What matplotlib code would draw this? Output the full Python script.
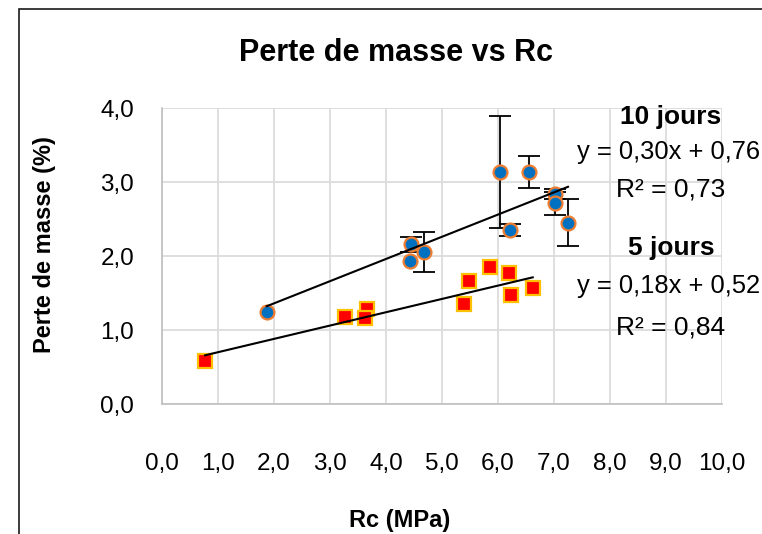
import matplotlib
matplotlib.use("Agg")
import matplotlib.pyplot as plt
import numpy as np
from matplotlib.patches import Rectangle

# ---- data ----
rc_10 = [1.87, 4.44, 4.43, 4.68, 6.04, 6.55, 6.21, 7.02, 7.02, 7.25]
pm_10 = [1.25, 2.16, 1.93, 2.06, 3.135, 3.135, 2.35, 2.84, 2.71, 2.45]
err_10 = [0.0, 0.10, 0.0, 0.27, 0.76, 0.21, 0.08, 0.07, 0.16, 0.32]

rc_5 = [0.77, 3.26, 3.66, 3.63, 5.40, 5.49, 5.85, 6.19, 6.23, 6.62]
pm_5 = [0.585, 1.17, 1.29, 1.16, 1.35, 1.66, 1.855, 1.77, 1.47, 1.57]

fit_10 = (0.30, 0.76)
fit_5 = (0.18, 0.52)
r2_10 = 0.73
r2_5 = 0.84

title = "Perte de masse vs Rc"
xlabel = "Rc (MPa)"
ylabel = "Perte de masse (%)"
xticks = np.arange(0, 11, 1)
yticks = np.arange(0, 5, 1)

W, H = 762, 534
plt.rcParams['font.family'] = ['Liberation Sans', 'DejaVu Sans']
fig = plt.figure(figsize=(W / 100, H / 100), dpi=100)

def fx(px):
    return px / W

def fy(py):
    return 1 - py / H

# outer chart border
fig.patches.append(Rectangle((fx(19), fy(H + 20)), 1.2, fy(9) - fy(H + 20),
                             transform=fig.transFigure, fill=False,
                             edgecolor='#1a1a1a', linewidth=1.2))

ax = fig.add_axes([fx(162), fy(404), fx(722) - fx(162), fy(108) - fy(404)])
ax.set_xlim(0, 10)
ax.set_ylim(0, 4)
ax.set_xticks(xticks)
ax.set_yticks(yticks)
ax.set_xticklabels([f"{v:.1f}".replace('.', ',') for v in xticks], fontsize=17.5)
ax.set_yticklabels([f"{v:.1f}".replace('.', ',') for v in yticks], fontsize=17.5)
ax.tick_params(axis='both', length=0)
ax.tick_params(axis='x', pad=35)
ax.tick_params(axis='y', pad=20)
ax.grid(True, color='#d9d9d9', linewidth=1.2)
ax.set_axisbelow(True)
for s in ['top', 'right']:
    ax.spines[s].set_visible(False)
for s in ['left', 'bottom']:
    ax.spines[s].set_color('#bfbfbf')
    ax.spines[s].set_linewidth(1.2)

# error bars (behind markers), only where an error exists
ex = [x for x, e in zip(rc_10, err_10) if e > 0]
ey = [y for y, e in zip(pm_10, err_10) if e > 0]
ee = [e for e in err_10 if e > 0]
ax.errorbar(ex, ey, yerr=ee, fmt='none', ecolor='black',
            elinewidth=1.3, capsize=8, capthick=1.3, zorder=2)

ax.plot(rc_5, pm_5, linestyle='none', marker='s', markersize=9.5,
        markerfacecolor='#ff0000', markeredgecolor='#ffc000',
        markeredgewidth=1.6, zorder=3, clip_on=False)
ax.plot(rc_10, pm_10, linestyle='none', marker='o', markersize=10,
        markerfacecolor='#0070c0', markeredgecolor='#ed7d31',
        markeredgewidth=1.6, zorder=3, clip_on=False)

# trendlines
for xs, (a, b) in ((rc_10, fit_10), (rc_5, fit_5)):
    xx = np.array([min(xs), max(xs)])
    ax.plot(xx, a * xx + b, color='black', linewidth=1.5, zorder=4)

# texts
fig.text(fx(396), fy(53), title, fontsize=22, fontweight='bold',
         ha='center', va='center')
fig.text(fx(400), fy(521), xlabel, fontsize=17, fontweight='bold',
         ha='center', va='center')
fig.text(fx(45), fy(245), ylabel, fontsize=17, fontweight='bold',
         ha='center', va='center', rotation=90)

def eq(a, b):
    return f"y = {a:.2f}x + {b:.2f}".replace('.', ',')

def r2(v):
    return f"R² = {v:.2f}".replace('.', ',')

fs = 19
fs_eq = 18.4
fig.text(fx(671), fy(117), "10 jours", fontsize=fs, fontweight='bold',
         ha='center', va='center')
fig.text(fx(760), fy(152), eq(*fit_10), fontsize=fs_eq, ha='right', va='center')
fig.text(fx(671), fy(189), r2(r2_10), fontsize=fs, ha='center', va='center')
fig.text(fx(671), fy(248), "5 jours", fontsize=fs, fontweight='bold',
         ha='center', va='center')
fig.text(fx(760), fy(286), eq(*fit_5), fontsize=fs_eq, ha='right', va='center')
fig.text(fx(671), fy(327), r2(r2_5), fontsize=fs, ha='center', va='center')

fig.savefig("out.png", dpi=100)
